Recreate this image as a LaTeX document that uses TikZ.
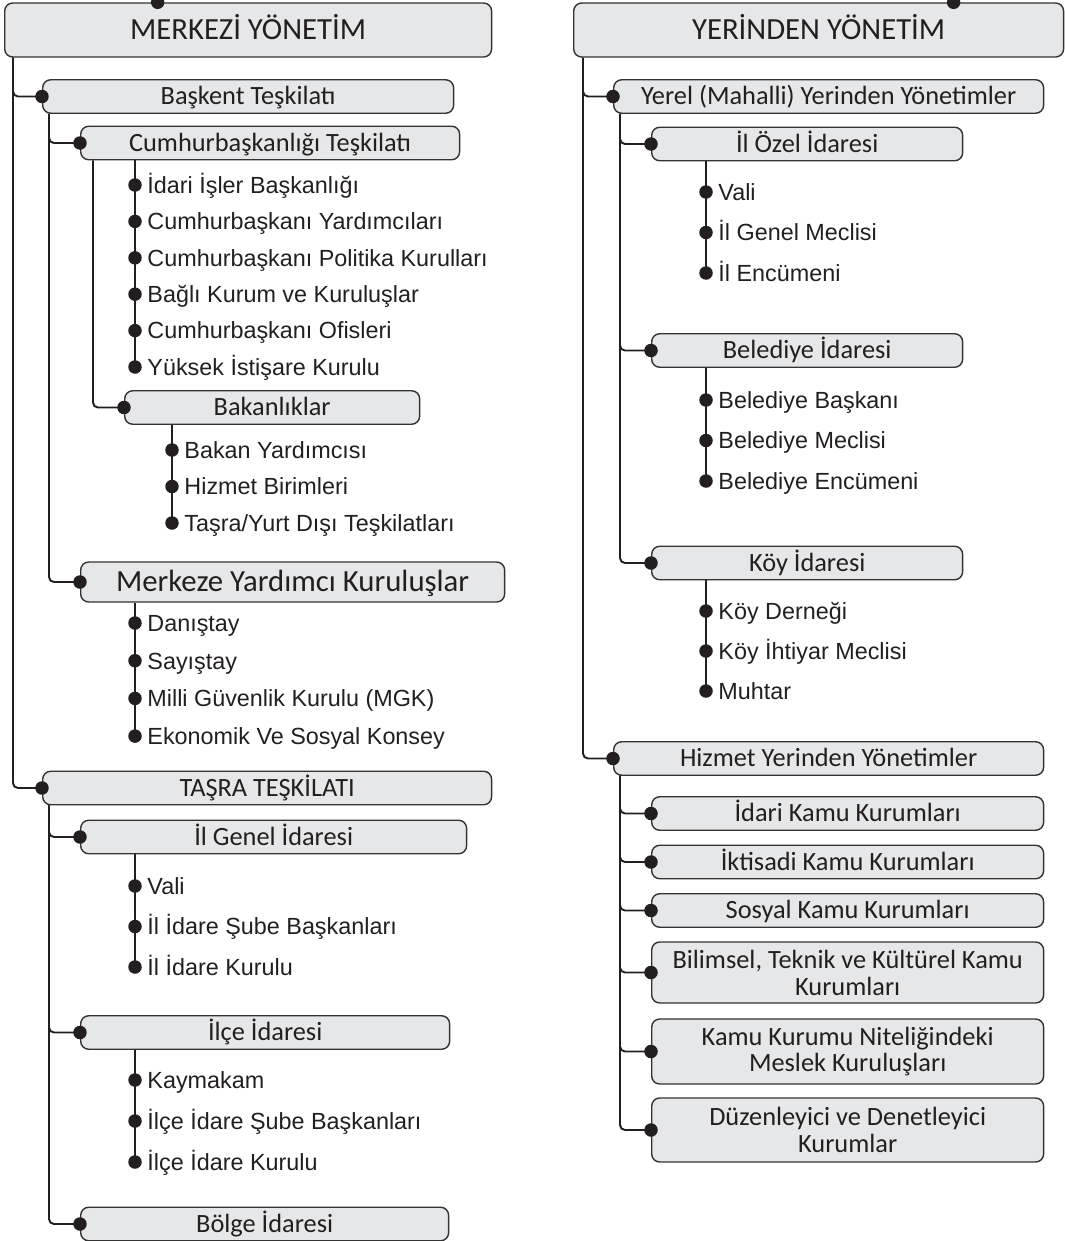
\documentclass[tikz,border=0pt]{standalone}
\usepackage{fontspec}
\setmainfont{Liberation Sans}
\newfontfamily\boxfont{Carlito}
\usetikzlibrary{positioning}
\definecolor{boxfill}{HTML}{E6E7E8}
\definecolor{boxline}{HTML}{333333}
\definecolor{ink}{HTML}{231F20}

\begin{document}
\begin{tikzpicture}[x=0.02cm, y=-0.02cm]
	\tikzset{box/.style={draw=boxline, fill=boxfill, rounded corners=0.16cm, line width=0.8pt, anchor=west, inner sep=0pt, text=ink, font=\boxfont\fontsize{15}{15.3}\selectfont},
		sbox/.style={box, text height=9.5pt, text depth=0pt, minimum height=0.67cm},
		bigbox/.style={box, font=\boxfont\fontsize{17.5}{18}\selectfont, text height=11.1pt, text depth=0pt},
		dot/.style={circle, fill=ink, inner sep=0pt, minimum size=0.27cm},
		item/.style={inner sep=0pt, text=ink, font=\fontsize{13.3}{15}\selectfont, text height=9.5pt, text depth=0pt},
		link/.style={draw=ink, line width=1.1pt, rounded corners=0.1cm}
	}
	\useasboundingbox (0,0) rectangle (1065,1241);

	% merkezi yonetim
	\node[bigbox, minimum width=9.74cm, minimum height=1.08cm] (merkezi) at (4,30) {MERKEZİ YÖNETİM};
	\node[sbox, minimum width=8.22cm] (baskent) at (42,96.5) {Başkent Teşkilatı};
	\node[sbox, minimum width=7.58cm] (cumhur) at (80,143) {Cumhurbaşkanlığı Teşkilatı};
	\node[sbox, minimum width=5.9cm] (bakan) at (124,407.5) {Bakanlıklar};
	\node[bigbox, minimum width=8.48cm, minimum height=0.8cm] (merkeze) at (80,582) {Merkeze Yardımcı Kuruluşlar};
	\node[sbox, minimum width=8.98cm] (tasra) at (42,788) {TAŞRA TEŞKİLATI};
	\node[sbox, minimum width=7.72cm] (ilgenel) at (80,837) {İl Genel İdaresi};
	\node[sbox, minimum width=7.38cm] (ilce) at (80,1032.5) {İlçe İdaresi};
	\node[sbox, minimum width=7.36cm] (bolge) at (80,1224) {Bölge İdaresi};

	\foreach \t [count=\i] in {İdari İşler Başkanlığı, Cumhurbaşkanı Yardımcıları, Cumhurbaşkanı Politika Kurulları, Bağlı Kurum ve Kuruluşlar, Cumhurbaşkanı Ofisleri, Yüksek İstişare Kurulu} {
		\node[dot] (cb\i) at (135,{185+36.4*(\i-1)}) {};
		\node[item, right=0.1cm of cb\i] {\t};
	}
	\foreach \t [count=\i] in {Bakan Yardımcısı, Hizmet Birimleri, Taşra/Yurt Dışı Teşkilatları} {
		\node[dot] (bk\i) at (172,{450+36.5*(\i-1)}) {};
		\node[item, right=0.1cm of bk\i] {\t};
	}
	\foreach \t [count=\i] in {Danıştay, Sayıştay, Milli Güvenlik Kurulu (MGK), Ekonomik Ve Sosyal Konsey} {
		\node[dot] (my\i) at (135,{623+37.7*(\i-1)}) {};
		\node[item, right=0.1cm of my\i] {\t};
	}
	\foreach \t [count=\i] in {Vali, İl İdare Şube Başkanları, İl İdare Kurulu} {
		\node[dot] (ig\i) at (135,{886+40.5*(\i-1)}) {};
		\node[item, right=0.1cm of ig\i] {\t};
	}
	\foreach \t [count=\i] in {Kaymakam, İlçe İdare Şube Başkanları, İlçe İdare Kurulu} {
		\node[dot] (ic\i) at (135,{1080+41*(\i-1)}) {};
		\node[item, right=0.1cm of ic\i] {\t};
	}

	\draw[link] ([xshift=0.18cm]merkezi.south west) |- (baskent.west);
	\draw[link] ([xshift=0.18cm]merkezi.south west) |- (tasra.west);
	\draw[link] ([xshift=0.14cm]baskent.south west) |- (cumhur.west);
	\draw[link] ([xshift=0.14cm]baskent.south west) |- (merkeze.west);
	\draw[link] ([xshift=0.26cm]cumhur.south west) |- (bakan.west);
	\draw[link] ([xshift=0.14cm]tasra.south west) |- (ilgenel.west);
	\draw[link] ([xshift=0.14cm]tasra.south west) |- (ilce.west);
	\draw[link] ([xshift=0.14cm]tasra.south west) |- (bolge.west);
	\draw[link] (cumhur.south -| cb1) -- (cb6.center);
	\draw[link] (bakan.south -| bk1) -- (bk3.center);
	\draw[link] (merkeze.south -| my1) -- (my4.center);
	\draw[link] (ilgenel.south -| ig1) -- (ig3.center);
	\draw[link] (ilce.south -| ic1) -- (ic3.center);

	% yerinden yonetim
	\node[bigbox, minimum width=9.8cm, minimum height=1.08cm] (yerinden) at (573,30) {YERİNDEN YÖNETİM};
	\node[sbox, minimum width=8.6cm] (yerel) at (613,96.5) {Yerel (Mahalli) Yerinden Yönetimler};
	\node[sbox, minimum width=6.22cm] (ilozel) at (651,144) {İl Özel İdaresi};
	\node[sbox, minimum width=6.22cm] (belediye) at (651,350.5) {Belediye İdaresi};
	\node[sbox, minimum width=6.22cm] (koy) at (651,563) {Köy İdaresi};
	\node[sbox, minimum width=8.6cm] (hizmet) at (613,758.5) {Hizmet Yerinden Yönetimler};
	\node[sbox, minimum width=7.84cm] (idari) at (651,813.5) {İdari Kamu Kurumları};
	\node[sbox, minimum width=7.84cm] (iktisadi) at (651,862) {İktisadi Kamu Kurumları};
	\node[sbox, minimum width=7.84cm] (sosyal) at (651,910.5) {Sosyal Kamu Kurumları};
	\node[box, align=center, minimum width=7.84cm, minimum height=1.22cm] (bilimsel) at (651,972.5) {Bilimsel, Teknik ve Kültürel Kamu\\Kurumları};
	\node[box, align=center, minimum width=7.84cm, minimum height=1.3cm] (meslek) at (651,1051.5) {Kamu Kurumu Niteliğindeki\\Meslek Kuruluşları};
	\node[box, align=center, minimum width=7.84cm, minimum height=1.28cm] (duzen) at (651,1130) {Düzenleyici ve Denetleyici\\Kurumlar};

	\foreach \t [count=\i] in {Vali, İl Genel Meclisi, İl Encümeni} {
		\node[dot] (io\i) at (706,{192+40.5*(\i-1)}) {};
		\node[item, right=0.1cm of io\i] {\t};
	}
	\foreach \t [count=\i] in {Belediye Başkanı, Belediye Meclisi, Belediye Encümeni} {
		\node[dot] (bl\i) at (706,{400+40.5*(\i-1)}) {};
		\node[item, right=0.1cm of bl\i] {\t};
	}
	\foreach \t [count=\i] in {Köy Derneği, Köy İhtiyar Meclisi, Muhtar} {
		\node[dot] (ky\i) at (706,{611+40*(\i-1)}) {};
		\node[item, right=0.1cm of ky\i] {\t};
	}

	\draw[link] ([xshift=0.2cm]yerinden.south west) |- (yerel.west);
	\draw[link] ([xshift=0.2cm]yerinden.south west) |- (hizmet.west);
	\foreach \n in {ilozel, belediye, koy}
		\draw[link] ([xshift=0.14cm]yerel.south west) |- (\n.west);
	\foreach \n in {idari, iktisadi, sosyal, bilimsel, meslek, duzen}
		\draw[link] ([xshift=0.14cm]hizmet.south west) |- (\n.west);
	\draw[link] (ilozel.south -| io1) -- (io3.center);
	\draw[link] (belediye.south -| bl1) -- (bl3.center);
	\draw[link] (koy.south -| ky1) -- (ky3.center);

	\foreach \n in {baskent, cumhur, bakan, merkeze, tasra, ilgenel, ilce, bolge, yerel, ilozel, belediye, koy, hizmet, idari, iktisadi, sosyal, bilimsel, meslek, duzen}
		\node[dot] at (\n.west) {};
	\node[dot] at ([xshift=-1.81cm]merkezi.north) {};
	\node[dot] at ([xshift=2.7cm]yerinden.north) {};
\end{tikzpicture}
\end{document}
